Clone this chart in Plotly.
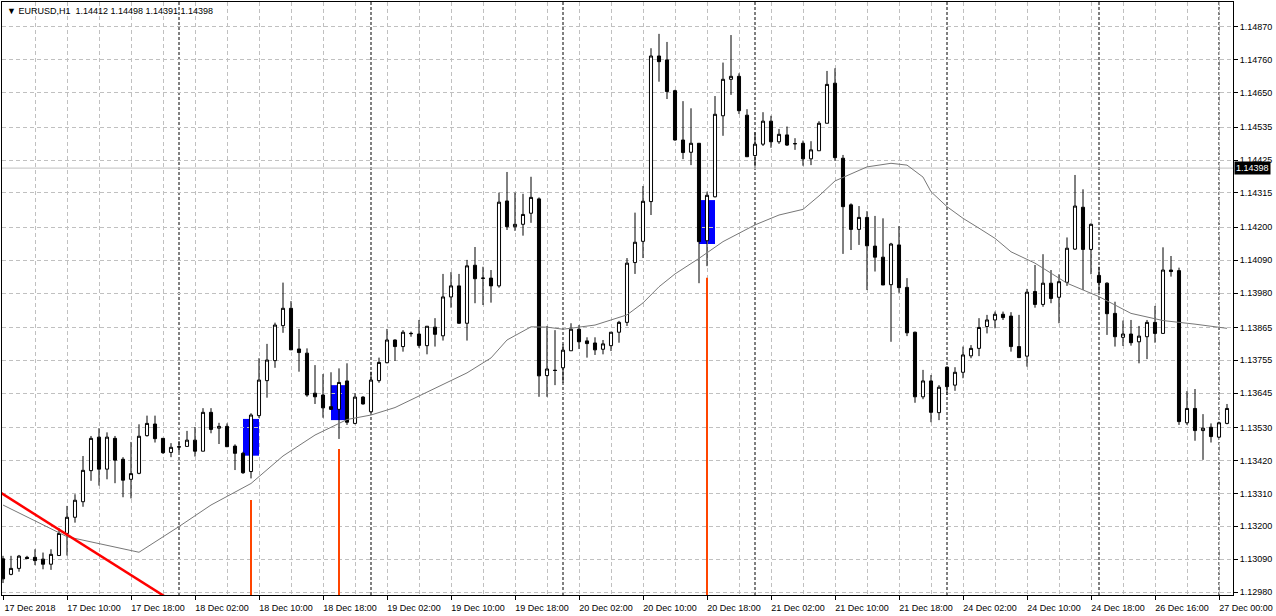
import plotly.graph_objects as go

# ---------------- data ----------------
bars = list(range(154))

open_ = [1.13091,1.13039,1.13059,1.13096,1.13096,1.13090,1.13073,1.13102,1.13176,1.13230,
 1.13282,1.13386,1.13498,1.13391,1.13494,1.13424,1.13357,1.13377,1.13503,1.13542,
 1.13494,1.13447,1.13466,1.13467,1.13488,1.13451,1.13581,1.13528,1.13534,1.13468,
 1.13444,1.13383,1.13570,1.13687,1.13754,1.13871,1.13929,1.13793,1.13779,1.13645,
 1.13639,1.13600,1.13591,1.13686,1.13544,1.13632,1.13583,1.13687,1.13747,1.13823,
 1.13801,1.13844,1.13843,1.13804,1.13866,1.13837,1.13967,1.14004,1.13879,1.14073,
 1.14029,1.14030,1.14004,1.14288,1.14202,1.14210,1.14247,1.14295,1.13704,1.13722,
 1.13730,1.13787,1.13859,1.13820,1.13813,1.13792,1.13804,1.13849,1.13882,1.14082,
 1.14153,1.14286,1.14773,1.14760,1.14657,1.14492,1.14451,1.14481,1.14155,1.14302,
 1.14573,1.14695,1.14705,1.14575,1.14440,1.14478,1.14555,1.14486,1.14509,1.14479,
 1.14481,1.14429,1.14456,1.14548,1.14682,1.14431,1.14275,1.14193,1.14233,1.14137,
 1.14100,1.14008,1.14141,1.13999,1.13849,1.13633,1.13686,1.13580,1.13732,1.13672,
 1.13715,1.13770,1.13795,1.13868,1.13890,1.13909,1.13903,1.13801,1.13769,1.13985,
 1.13942,1.14013,1.13966,1.14016,1.14127,1.14267,1.14126,1.14039,1.14013,1.13912,
 1.13832,1.13843,1.13817,1.13834,1.13882,1.13845,1.14057,1.14055,1.13546,1.13594,
 1.13520,1.13531,1.13498,1.13544]

high = [1.13101,1.13101,1.13104,1.13101,1.13123,1.13112,1.13123,1.13193,1.13268,1.13307,
 1.13435,1.13502,1.13528,1.13514,1.13502,1.13431,1.13482,1.13541,1.13570,1.13570,
 1.13494,1.13478,1.13485,1.13519,1.13532,1.13595,1.13595,1.13546,1.13544,1.13474,
 1.13449,1.13578,1.13762,1.13810,1.13881,1.14015,1.13953,1.13860,1.13795,1.13739,
 1.13709,1.13715,1.13728,1.13745,1.13645,1.13635,1.13717,1.13764,1.13860,1.13825,
 1.13856,1.13851,1.13890,1.13869,1.13896,1.14044,1.14050,1.14044,1.14091,1.14134,
 1.14068,1.14057,1.14316,1.14385,1.14316,1.14312,1.14369,1.14300,1.13870,1.13856,
 1.13809,1.13879,1.13873,1.13832,1.13832,1.13823,1.13849,1.13887,1.14097,1.14249,
 1.14338,1.14799,1.14847,1.14820,1.14660,1.14622,1.14598,1.14482,1.14319,1.14639,
 1.14751,1.14843,1.14715,1.14595,1.14518,1.14585,1.14573,1.14529,1.14537,1.14498,
 1.14490,1.14488,1.14555,1.14723,1.14732,1.14442,1.14280,1.14271,1.14254,1.14238,
 1.14230,1.14148,1.14204,1.14030,1.13851,1.13723,1.13706,1.13672,1.13735,1.13732,
 1.13801,1.13806,1.13896,1.13907,1.13918,1.13918,1.13916,1.13907,1.13994,1.14074,
 1.14110,1.14057,1.14043,1.14166,1.14375,1.14327,1.14213,1.14068,1.14016,1.13951,
 1.13888,1.13890,1.13870,1.13890,1.13937,1.14133,1.14104,1.14065,1.13652,1.13659,
 1.13575,1.13544,1.13550,1.13609]

low = [1.13010,1.13036,1.13048,1.13090,1.13070,1.13056,1.13054,1.13102,1.13102,1.13212,
 1.13265,1.13352,1.13336,1.13357,1.13344,1.13297,1.13293,1.13374,1.13500,1.13480,
 1.13442,1.13431,1.13448,1.13467,1.13433,1.13451,1.13511,1.13475,1.13466,1.13388,
 1.13375,1.13360,1.13562,1.13630,1.13730,1.13847,1.13790,1.13717,1.13633,1.13609,
 1.13563,1.13589,1.13492,1.13539,1.13541,1.13607,1.13580,1.13680,1.13745,1.13753,
 1.13784,1.13834,1.13797,1.13775,1.13801,1.13821,1.13931,1.13877,1.13821,1.13946,
 1.13940,1.13948,1.13998,1.14191,1.14188,1.14172,1.14215,1.13633,1.13633,1.13672,
 1.13680,1.13787,1.13793,1.13764,1.13773,1.13775,1.13786,1.13814,1.13870,1.14044,
 1.14097,1.14241,1.14687,1.14629,1.14490,1.14428,1.14408,1.14013,1.14070,1.14300,
 1.14506,1.14643,1.14579,1.14436,1.14403,1.14472,1.14466,1.14479,1.14472,1.14459,
 1.14406,1.14408,1.14456,1.14548,1.14422,1.14111,1.14124,1.14141,1.13990,1.14052,
 1.14007,1.13817,1.13981,1.13836,1.13613,1.13625,1.13548,1.13555,1.13639,1.13653,
 1.13695,1.13762,1.13769,1.13845,1.13862,1.13890,1.13784,1.13764,1.13734,1.13931,
 1.13934,1.13946,1.13879,1.14004,1.14124,1.13990,1.14043,1.13981,1.13840,1.13801,
 1.13803,1.13804,1.13745,1.13759,1.13814,1.13845,1.14035,1.13539,1.13539,1.13486,
 1.13422,1.13480,1.13495,1.13541]

close = [1.13024,1.13059,1.13100,1.13092,1.13085,1.13073,1.13106,1.13176,1.13230,1.13287,
 1.13387,1.13494,1.13391,1.13498,1.13421,1.13354,1.13376,1.13501,1.13544,1.13493,
 1.13446,1.13464,1.13465,1.13488,1.13451,1.13581,1.13524,1.13534,1.13466,1.13444,
 1.13379,1.13572,1.13689,1.13756,1.13873,1.13929,1.13790,1.13781,1.13639,1.13633,
 1.13596,1.13591,1.13681,1.13548,1.13632,1.13609,1.13689,1.13748,1.13823,1.13801,
 1.13849,1.13845,1.13805,1.13869,1.13842,1.13967,1.14004,1.13879,1.14071,1.14028,
 1.14030,1.14004,1.14284,1.14202,1.14210,1.14243,1.14300,1.13703,1.13726,1.13721,
 1.13789,1.13859,1.13817,1.13811,1.13790,1.13810,1.13849,1.13882,1.14080,1.14150,
 1.14287,1.14773,1.14754,1.14654,1.14492,1.14450,1.14481,1.14152,1.14307,1.14578,
 1.14695,1.14705,1.14590,1.14436,1.14478,1.14555,1.14486,1.14511,1.14475,1.14480,
 1.14429,1.14459,1.14548,1.14678,1.14433,1.14269,1.14193,1.14233,1.14138,1.14100,
 1.14007,1.14144,1.13998,1.13847,1.13633,1.13686,1.13581,1.13665,1.13667,1.13715,
 1.13773,1.13795,1.13865,1.13890,1.13909,1.13898,1.13801,1.13764,1.13983,1.13942,
 1.14013,1.13962,1.14018,1.14130,1.14271,1.14126,1.14210,1.14015,1.13911,1.13834,
 1.13843,1.13814,1.13836,1.13882,1.13845,1.14057,1.14052,1.13550,1.13594,1.13520,
 1.13528,1.13500,1.13546,1.13594]

# moving average (read at sample bars)
ma_bars = [0, 8, 17, 22, 26, 31, 35, 39, 43, 46, 49, 52, 54, 58, 61, 63, 66, 68, 70, 74,
           78, 80, 82, 84, 87, 90, 94, 97, 100, 102, 104, 108, 111, 113, 115, 116, 118, 120,
           122, 124, 126, 129, 133, 137, 141, 145, 149, 153]
ma_values = [1.13271, 1.13165, 1.13113, 1.13199, 1.13271, 1.13343, 1.13435, 1.13505, 1.13557,
             1.13572, 1.13597, 1.13636, 1.13661, 1.13713, 1.13763, 1.13823, 1.13867, 1.13866,
             1.13859, 1.13873, 1.13907, 1.13947, 1.14001, 1.14044, 1.14096, 1.14152, 1.14208,
             1.14241, 1.14260, 1.14305, 1.14355, 1.14402, 1.14414, 1.14408, 1.14368, 1.14319,
             1.14269, 1.14230, 1.14197, 1.14163, 1.14118, 1.14080, 1.14013, 1.13968, 1.13912,
             1.13888, 1.13876, 1.13862]

# red trend line anchors
trend_bars = [-1, 21]
trend_prices = [1.13324, 1.12952]

# signal markers (orange verticals) and boxes
signal_bars = [31, 42, 88]
signal_tops = [1.13288, 1.13458, 1.14031]
signal_base = 1.12900
box_start = [30, 41, 87]
box_end = [32, 43, 89]
box_high = [1.13559, 1.13672, 1.14291]
box_low = [1.13436, 1.13555, 1.14144]

# day separators
separator_bars = [22, 46, 70, 94, 118, 137, 152]

# current bid
bid = 1.14398
bid_text = "1.14398"
header = "\u25BC EURUSD,H1\u00a0 1.14412 1.14498 1.14391 1.14398"

# axes
x_tick_bars = list(range(0, 153, 8))
x_tick_labels = ["17 Dec 2018", "17 Dec 10:00", "17 Dec 18:00", "18 Dec 02:00", "18 Dec 10:00",
                 "18 Dec 18:00", "19 Dec 02:00", "19 Dec 10:00", "19 Dec 18:00", "20 Dec 02:00",
                 "20 Dec 10:00", "20 Dec 18:00", "21 Dec 02:00", "21 Dec 10:00", "21 Dec 18:00",
                 "24 Dec 02:00", "24 Dec 10:00", "24 Dec 18:00", "26 Dec 16:00", "27 Dec 00:00"]
x_minor_bars = list(range(4, 153, 8))
y_tick_labels = ["1.14870", "1.14760", "1.14650", "1.14535", "1.14425", "1.14315", "1.14200",
                 "1.14090", "1.13980", "1.13865", "1.13755", "1.13645", "1.13530", "1.13420",
                 "1.13310", "1.13200", "1.13090", "1.12980"]
y_tick_values = [float(t) for t in y_tick_labels]

# ---------------- figure ----------------
GRID = "#C0C0C0"
FONT = dict(family="Liberation Sans, Arial, sans-serif", size=9, color="black")

fig = go.Figure()

fig.add_trace(go.Candlestick(
    x=bars, open=open_, high=high, low=low, close=close,
    increasing=dict(line=dict(color="black", width=1), fillcolor="white"),
    decreasing=dict(line=dict(color="black", width=1), fillcolor="black"),
    whiskerwidth=0, showlegend=False, hoverinfo="skip"))

fig.add_trace(go.Scatter(x=ma_bars, y=ma_values, mode="lines",
                         line=dict(color="#777777", width=1), showlegend=False, hoverinfo="skip"))

fig.add_trace(go.Scatter(x=trend_bars, y=trend_prices, mode="lines",
                         line=dict(color="#FF0000", width=2.5), showlegend=False, hoverinfo="skip"))

sx, sy = [], []
for b, t in zip(signal_bars, signal_tops):
    sx += [b, b, None]
    sy += [t, signal_base, None]
fig.add_trace(go.Scatter(x=sx, y=sy, mode="lines", line=dict(color="#FF4500", width=2),
                         showlegend=False, hoverinfo="skip"))

shapes = []
for x0, x1, y1, y0 in zip(box_start, box_end, box_high, box_low):
    shapes.append(dict(type="rect", xref="x", yref="y", x0=x0, x1=x1, y0=y0, y1=y1,
                       fillcolor="#0000FF", line=dict(width=0), layer="below"))
for b in separator_bars:
    shapes.append(dict(type="line", xref="x", yref="paper", x0=b, x1=b, y0=0, y1=1,
                       line=dict(color="black", width=1, dash="3px,2px"), layer="between"))
shapes.append(dict(type="line", xref="paper", yref="y", x0=0, x1=1, y0=bid, y1=bid,
                   line=dict(color="#C0C0C0", width=1), layer="between"))

fig.update_layout(
    width=1276, height=616,
    margin=dict(l=2, r=43, t=2, b=21),
    paper_bgcolor="white", plot_bgcolor="white",
    font=FONT, showlegend=False, boxgap=0.45,
    shapes=shapes,
    xaxis=dict(
        range=[-0.125, 153.75], rangeslider=dict(visible=False),
        tickmode="array", tickvals=x_tick_bars, ticktext=x_tick_labels,
        ticks="outside", ticklen=4, tickcolor="black", ticklabelshift=27,
        showgrid=True, gridcolor=GRID, griddash="4px,3px", gridwidth=1,
        minor=dict(tickmode="array", tickvals=x_minor_bars, showgrid=True,
                   gridcolor=GRID, griddash="4px,3px", gridwidth=1, ticks=""),
        showline=True, linecolor="black", linewidth=1, mirror=True,
        zeroline=False, tickfont=FONT, fixedrange=True),
    yaxis=dict(
        range=[1.129700, 1.149536], side="right",
        tickmode="array", tickvals=y_tick_values, ticktext=y_tick_labels,
        ticks="outside", ticklen=4, tickcolor="black",
        showgrid=True, gridcolor=GRID, griddash="4px,3px", gridwidth=1,
        showline=True, linecolor="black", linewidth=1, mirror=True,
        zeroline=False, tickfont=FONT, fixedrange=True),
    annotations=[
        dict(xref="paper", yref="paper", x=0, y=1, xanchor="left", yanchor="top",
             xshift=3, yshift=-2, text=header, showarrow=False, font=FONT),
        dict(xref="paper", yref="y", x=1, y=bid, xanchor="left", yanchor="middle",
             xshift=1, text=bid_text, showarrow=False,
             font=dict(family="Liberation Sans, Arial, sans-serif", size=9, color="white"),
             bgcolor="black", borderpad=1),
    ],
)

fig.write_html("out.html", config={"displayModeBar": False},
               post_script="document.body.style.margin='0';document.body.style.padding='0';")
